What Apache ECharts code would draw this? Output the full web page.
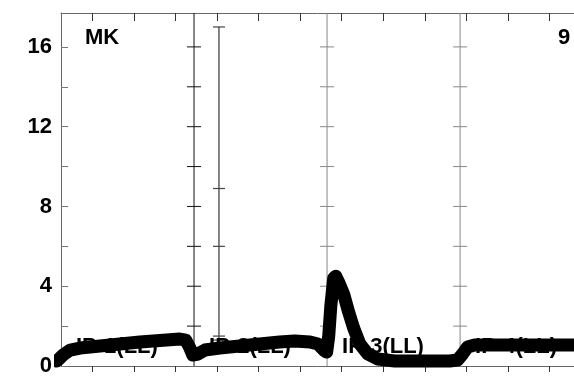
<!DOCTYPE html>
<html>
<head>
<meta charset="utf-8">
<script src="https://cdn.jsdelivr.net/npm/echarts@6/dist/echarts.min.js"></script>
<style>
  html, body { margin: 0; padding: 0; background: #fff; }
  #main { width: 574px; height: 377px; }
</style>
</head>
<body>
<div id="main"></div>
<script>
// x runs in tick steps; every panel is 3.2 steps wide, the last one is cut at the edge
const panelStarts = [0, 3.2, 6.4, 9.6];
const panelWidth = 3.2;
const panelNames = ['IP-1(LL)', 'IP-2(LL)', 'IP-3(LL)', 'IP-4(LL)'];
const cornerNames = ['MK', '9'];

const xTicks = [0.75, 1.75, 2.75, 3.75, 4.75, 5.75, 6.75, 7.75, 8.75, 9.75, 10.75, 11.75];
const yTicks = [0, 2, 4, 6, 8, 10, 12, 14, 16];
const yLabels = [0, 4, 8, 12, 16];

// the thick trace
const traceX = [-0.10, 0.05, 0.22, 0.46, 0.94, 1.42, 1.90, 2.38, 2.86, 3.00, 3.10, 3.17,
                3.29, 3.46, 3.82, 4.30, 4.78, 5.26, 5.62, 5.99, 6.18, 6.32, 6.39,
                6.44, 6.49, 6.56, 6.61, 6.68, 6.80, 6.92, 7.04, 7.19, 7.38, 7.62, 8.03,
                8.63, 9.35, 9.54, 9.66, 9.78, 9.95, 10.55, 11.51, 12.48];
const traceY = [0.25, 0.55, 0.8, 0.9, 1.0, 1.1, 1.2, 1.28, 1.35, 1.3, 0.9, 0.55,
                0.6, 0.8, 0.9, 1.0, 1.1, 1.2, 1.25, 1.2, 1.1, 0.8, 0.7,
                1.5, 3.0, 4.4, 4.5, 4.2, 3.6, 2.7, 1.9, 1.1, 0.6, 0.35, 0.25,
                0.25, 0.25, 0.3, 0.6, 0.95, 1.05, 1.05, 1.05, 1.05];

// tall error bar in panel 2
const errX = 3.8;
const errCaps = [17.0, 8.9, 6.0, 1.5, 1.3];

const xMax = 12.34;
const yMax = 17.7;
const dividerColors = ['#111', '#888', '#888'];
const font = '"Liberation Sans", Arial, sans-serif';

const labels = [];
panelNames.forEach((t, i) => {
  labels.push({ x: panelStarts[i], y: 0.94, text: t, align: 'left', dx: 15 });
});
labels.push({ x: panelStarts[0], y: 16.45, text: cornerNames[0], align: 'left', dx: 24 });
labels.push({ x: panelStarts[3] + panelWidth, y: 16.45, text: cornerNames[1], align: 'right', dx: -23 });

const chart = echarts.init(document.getElementById('main'));

const axisGrey = { color: '#666', width: 1 };

chart.setOption({
  animation: false,
  grid: { left: 61, right: 0, top: 13, bottom: 6 },
  xAxis: [{
    type: 'value', position: 'bottom', min: 0, max: xMax,
    axisLine: { show: true, lineStyle: axisGrey },
    axisTick: { show: true, inside: false, length: 6, customValues: xTicks, lineStyle: { color: '#333' } },
    axisLabel: { show: false },
    splitLine: { show: false }
  }, {
    type: 'value', position: 'top', min: 0, max: xMax,
    axisLine: { show: true, lineStyle: axisGrey },
    axisTick: { show: true, inside: true, length: 8, customValues: xTicks, lineStyle: { color: '#333' } },
    axisLabel: { show: false },
    splitLine: { show: false }
  }],
  yAxis: {
    type: 'value', min: 0, max: yMax,
    axisLine: { show: true, lineStyle: axisGrey },
    axisTick: { show: true, inside: true, length: 7, customValues: yTicks, lineStyle: { color: '#777' } },
    axisLabel: {
      customValues: yLabels, margin: 9,
      color: '#000', fontSize: 22, fontWeight: 'bold', fontFamily: font
    },
    splitLine: { show: false }
  },
  series: [{
    // panel dividers with crossing ticks
    type: 'custom', z: 1, silent: true,
    data: panelStarts.slice(1).map((x, i) => [x, i]),
    renderItem: function (params, api) {
      const x = api.value(0);
      const col = dividerColors[api.value(1)];
      const top = api.coord([x, yMax]);
      const bot = api.coord([x, 0]);
      const kids = [{
        type: 'line', shape: { x1: top[0], y1: top[1], x2: bot[0], y2: bot[1] },
        style: { stroke: col, lineWidth: 1 }
      }];
      yTicks.filter(v => v > 0).forEach(v => {
        const p = api.coord([x, v]);
        kids.push({
          type: 'line', shape: { x1: p[0] - 7, y1: p[1], x2: p[0] + 7, y2: p[1] },
          style: { stroke: col, lineWidth: 1 }
        });
      });
      return { type: 'group', children: kids };
    }
  }, {
    // error bar
    type: 'custom', z: 1, silent: true,
    data: [[errX, errCaps[0]]],
    renderItem: function (params, api) {
      const x = api.value(0);
      const hi = api.coord([x, Math.max.apply(null, errCaps)]);
      const lo = api.coord([x, Math.min.apply(null, errCaps)]);
      const kids = [{
        type: 'line', shape: { x1: hi[0], y1: hi[1], x2: lo[0], y2: lo[1] },
        style: { stroke: '#333', lineWidth: 1.2 }
      }];
      errCaps.forEach(v => {
        const p = api.coord([x, v]);
        kids.push({
          type: 'line', shape: { x1: p[0] - 6, y1: p[1], x2: p[0] + 6, y2: p[1] },
          style: { stroke: '#444', lineWidth: 1.2 }
        });
      });
      return { type: 'group', children: kids };
    }
  }, {
    // panel names
    type: 'custom', z: 2, silent: true,
    data: labels.map(l => [l.x, l.y]),
    renderItem: function (params, api) {
      const l = labels[params.dataIndex];
      const p = api.coord([l.x, l.y]);
      return {
        type: 'text', x: p[0] + l.dx, y: p[1],
        style: {
          text: l.text, fill: '#000', align: l.align, verticalAlign: 'middle',
          font: 'bold 22px ' + font
        }
      };
    }
  }, {
    type: 'line', z: 5, clip: false, silent: true,
    showSymbol: false, smooth: false,
    data: traceX.map((x, i) => [x, traceY[i]]),
    lineStyle: { color: '#000', width: 13, join: 'round', cap: 'round' }
  }]
});
</script>
</body>
</html>
